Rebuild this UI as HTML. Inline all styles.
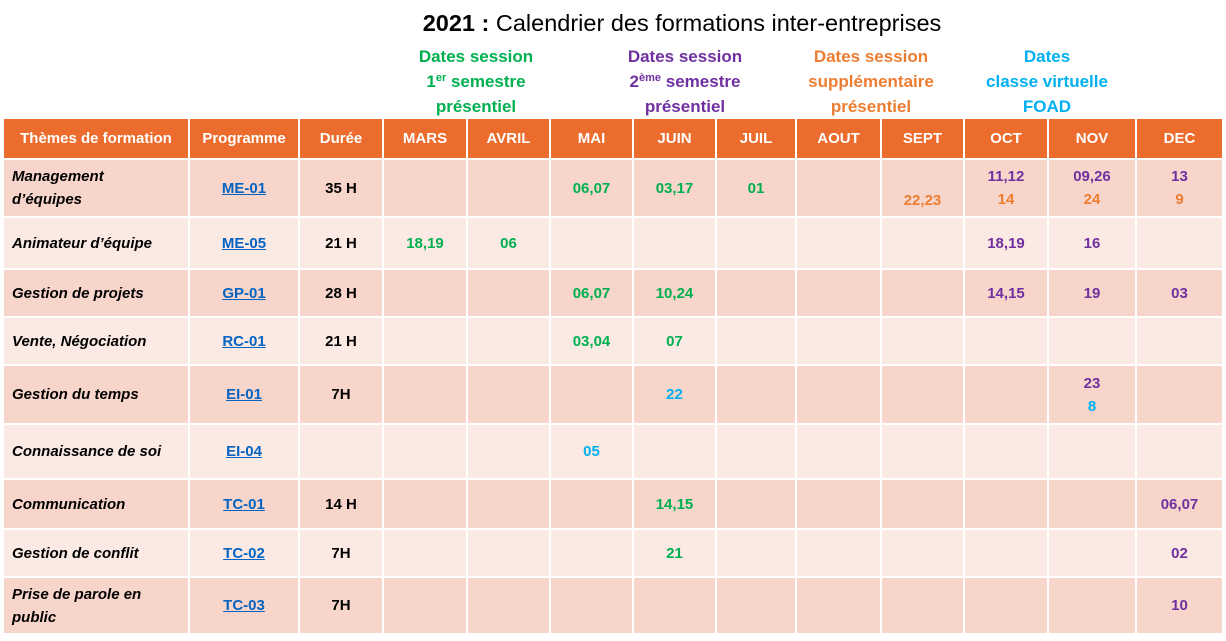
<!DOCTYPE html>
<html><head><meta charset="utf-8"><style>
body{margin:0;width:1226px;height:641px;background:#fff;font-family:"Liberation Sans",sans-serif;position:relative;overflow:hidden}
.t{position:absolute;left:0;top:10px;width:1364px;text-align:center;font-size:23.5px;color:#000}
.sub{position:absolute;top:44px;text-align:center;font-weight:bold;font-size:17px;line-height:25px;width:200px}
sup{font-size:11px;line-height:0;vertical-align:6px}
table{position:absolute;left:2px;top:117px;border-collapse:collapse;table-layout:fixed;width:1220px}
td,th{border:2px solid #fff;text-align:center;font-weight:bold;font-size:15px;padding:0}
th{background:#eb6c2c;color:#fff;height:39px}
tr.d td{background:#f8d5ca}tr.l td{background:#fbe9e4}
td.n{text-align:left;font-style:italic;padding-left:8px;line-height:23px}
a{color:#0563c1;text-decoration:underline}
.g{color:#00b050}.p{color:#7030a0}.o{color:#ed7d31}.b{color:#00b0f0}
</style></head><body>
<div class="t"><b>2021 :</b> Calendrier des formations inter-entreprises</div>
<div class="sub g" style="left:376px">Dates session<br>1<sup>er</sup> semestre<br>présentiel</div>
<div class="sub p" style="left:585px">Dates session<br>2<sup>ème</sup> semestre<br>présentiel</div>
<div class="sub o" style="left:771px">Dates session<br>supplémentaire<br>présentiel</div>
<div class="sub b" style="left:947px">Dates<br>classe virtuelle<br>FOAD</div>
<table>
<colgroup><col style="width:186px"><col style="width:110px"><col style="width:84px"><col style="width:84px"><col style="width:83px"><col style="width:83px"><col style="width:83px"><col style="width:80px"><col style="width:85px"><col style="width:83px"><col style="width:84px"><col style="width:88px"><col style="width:87px"></colgroup>
<tr><th>Thèmes de formation</th><th>Programme</th><th>Durée</th><th>MARS</th><th>AVRIL</th><th>MAI</th><th>JUIN</th><th>JUIL</th><th>AOUT</th><th>SEPT</th><th>OCT</th><th>NOV</th><th>DEC</th></tr>
<tr class="d" style="height:58px"><td class="n">Management<br>d’équipes</td><td><a>ME-01</a></td><td>35 H</td><td></td><td></td><td class="g">06,07</td><td class="g">03,17</td><td class="g">01</td><td></td><td class="o" style="padding-top:24px">22,23</td><td style="line-height:23px"><span class="p">11,12</span><br><span class="o">14</span></td><td style="line-height:23px"><span class="p">09,26</span><br><span class="o">24</span></td><td style="line-height:23px"><span class="p">13</span><br><span class="o">9</span></td></tr>
<tr class="l" style="height:52px"><td class="n">Animateur d’équipe</td><td><a>ME-05</a></td><td>21 H</td><td class="g">18,19</td><td class="g">06</td><td></td><td></td><td></td><td></td><td></td><td class="p">18,19</td><td class="p">16</td><td></td></tr>
<tr class="d" style="height:48px"><td class="n">Gestion de projets</td><td><a>GP-01</a></td><td>28 H</td><td></td><td></td><td class="g">06,07</td><td class="g">10,24</td><td></td><td></td><td></td><td class="p">14,15</td><td class="p">19</td><td class="p">03</td></tr>
<tr class="l" style="height:48px"><td class="n">Vente, Négociation</td><td><a>RC-01</a></td><td>21 H</td><td></td><td></td><td class="g">03,04</td><td class="g">07</td><td></td><td></td><td></td><td></td><td></td><td></td></tr>
<tr class="d" style="height:59px"><td class="n">Gestion du temps</td><td><a>EI-01</a></td><td>7H</td><td></td><td></td><td></td><td class="b">22</td><td></td><td></td><td></td><td></td><td style="line-height:23px"><span class="p">23</span><br><span class="b">8</span></td><td></td></tr>
<tr class="l" style="height:55px"><td class="n">Connaissance de soi</td><td><a>EI-04</a></td><td></td><td></td><td></td><td class="b">05</td><td></td><td></td><td></td><td></td><td></td><td></td><td></td></tr>
<tr class="d" style="height:50px"><td class="n">Communication</td><td><a>TC-01</a></td><td>14 H</td><td></td><td></td><td></td><td class="g">14,15</td><td></td><td></td><td></td><td></td><td></td><td class="p">06,07</td></tr>
<tr class="l" style="height:48px"><td class="n">Gestion de conflit</td><td><a>TC-02</a></td><td>7H</td><td></td><td></td><td></td><td class="g">21</td><td></td><td></td><td></td><td></td><td></td><td class="p">02</td></tr>
<tr class="d" style="height:57px"><td class="n">Prise de parole en<br>public</td><td><a>TC-03</a></td><td>7H</td><td></td><td></td><td></td><td></td><td></td><td></td><td></td><td></td><td></td><td class="p">10</td></tr>
</table>
</body></html>
